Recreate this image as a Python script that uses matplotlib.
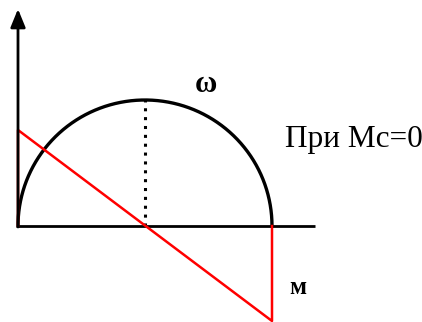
import matplotlib
matplotlib.use("Agg")
import matplotlib.pyplot as plt
import numpy as np

# schematic in pixel-like units, origin at axis crossing
axis_x_end = 297
axis_y_end = 217
circle_center = 127
circle_rx = 127
circle_ry = 126
red_x = [0, 0, 254, 254]
red_y = [0, 96, -95, 0]
labels = ["ω", "При Mc=0", "м"]

fig = plt.figure(figsize=(4.22, 3.22), dpi=100)
ax = fig.add_axes([0, 0, 1, 1])
ax.set_xlim(-18, 404)
ax.set_ylim(-96, 226)
ax.axis("off")

# axes lines
ax.plot([0, axis_x_end], [0, 0], color="black", lw=2.0, solid_capstyle="butt")
ax.annotate("", xy=(0, axis_y_end), xytext=(0, -1),
            arrowprops=dict(arrowstyle="-|>,head_length=1.1,head_width=0.45",
                            color="black", lw=2.0, shrinkA=0, shrinkB=0))

# semicircle
t = np.linspace(0, np.pi, 300)
ax.plot(circle_center + circle_rx * np.cos(t), circle_ry * np.sin(t),
        color="black", lw=2.4)

# dotted line at the peak
ax.plot([circle_center, circle_center], [0, circle_ry], color="black",
        lw=2.2, linestyle=(0, (1, 1.9)))

# red line
ax.plot(red_x, red_y, color="#ff0000", lw=1.8)

ax.text(177, 134, labels[0], fontsize=22, fontweight="bold",
        family="Liberation Serif", ha="left", va="baseline")
ax.text(267, 79, labels[1], fontsize=22.5, family="Liberation Serif",
        ha="left", va="baseline")
ax.text(271, -68, labels[2], fontsize=18, fontweight="bold",
        family="Liberation Serif", ha="left", va="baseline")

fig.savefig("out.png", dpi=100)
